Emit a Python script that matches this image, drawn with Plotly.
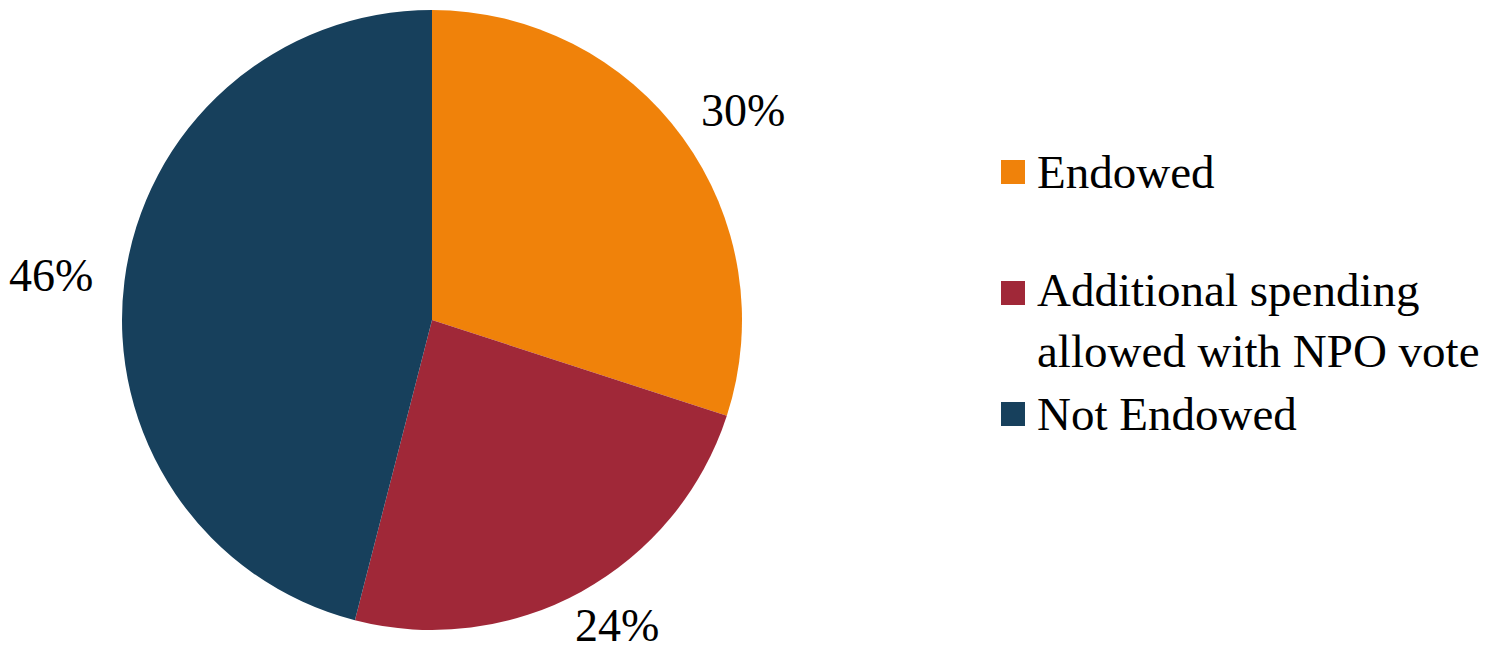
import math
import plotly.graph_objects as go

# Share of institutions by endowment status
categories = ["Endowed", "Additional spending<br>allowed with NPO vote", "Not Endowed"]
shares = [30, 24, 46]
colors = ["#F0820A", "#A02838", "#17405C"]

W, H = 1504, 654
FONT = "Liberation Serif"

# Pie placement in pixels
cx, cy, R = 432, 320, 310
dom_x = [(cx - R) / W, (cx + R) / W]
dom_y = [1 - (cy + R) / H, 1 - (cy - R) / H]

fig = go.Figure(
    go.Pie(
        labels=categories,
        values=shares,
        marker=dict(colors=colors, line=dict(width=0)),
        sort=False,
        direction="clockwise",
        rotation=0,
        textinfo="none",
        hoverinfo="label+percent",
        showlegend=False,
        domain=dict(x=dom_x, y=dom_y),
    )
)

annotations = []
shapes = []

# Percentage labels outside each slice at its mid-angle. Labels are wider
# than tall, so they sit on an ellipse around the pie; the bottom one is
# kept inside the page.
total = sum(shares)
start = 0.0
label_rx, label_ry = 384, 356
max_y = 625
for v in shares:
    mid = (start + v / 2) / total * 2 * math.pi
    start += v
    px = cx + label_rx * math.sin(mid)
    py = min(cy - label_ry * math.cos(mid), max_y)
    annotations.append(dict(
        x=px / W, y=1 - py / H, xref="paper", yref="paper",
        text=f"{round(v / total * 100)}%", showarrow=False,
        xanchor="center", yanchor="middle",
        font=dict(family=FONT, size=46, color="#000000"),
    ))

# Legend: colored squares with labels
legend_rows = [172, 293, 414]  # square centers (px)
sq = 24
for cat, col, yc in zip(categories, colors, legend_rows):
    shapes.append(dict(
        type="rect", xref="paper", yref="paper",
        x0=1001 / W, x1=(1001 + sq) / W,
        y0=1 - (yc + sq / 2) / H, y1=1 - (yc - sq / 2) / H,
        fillcolor=col, line=dict(width=0),
    ))
    nlines = cat.count("<br>") + 1
    ty = yc + (nlines - 1) * 55 / 2
    annotations.append(dict(
        x=1035 / W, y=1 - ty / H, xref="paper", yref="paper",
        text=cat, showarrow=False, align="left",
        xanchor="left", yanchor="middle",
        font=dict(family=FONT, size=47, color="#000000"),
    ))

fig.update_layout(
    width=W, height=H,
    margin=dict(l=0, r=0, t=0, b=0),
    paper_bgcolor="white", plot_bgcolor="white",
    annotations=annotations, shapes=shapes,
    showlegend=False,
)

fig.write_html("out.html")
